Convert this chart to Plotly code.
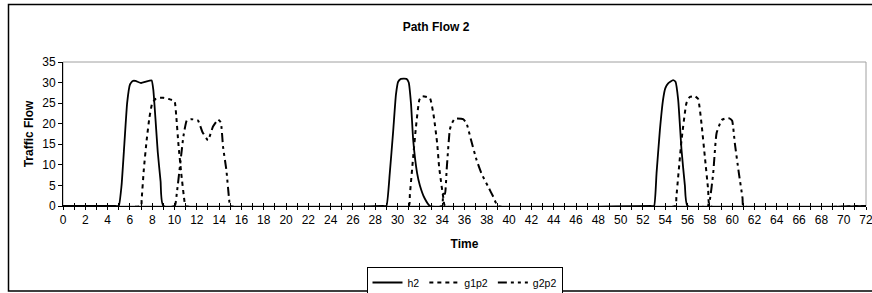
import plotly.graph_objects as go

# ---- data ----
h2_t = [0, 4.7, 5.0, 5.25, 5.5, 5.75, 6.0, 6.25, 6.5, 7.0, 7.5, 7.95, 8.1, 8.5, 8.75, 9.0,
        28.7, 29.0, 29.3, 29.6, 29.85, 30.05, 30.3, 30.8, 31.0, 31.2, 31.4, 31.75, 32.0, 32.4, 32.9,
        52.7, 53.0, 53.22, 53.52, 53.8, 54.0, 54.26, 54.7, 54.92, 55.16, 55.46, 55.76, 56.0, 72]
h2_v = [0, 0, 0, 5, 15, 25, 29.5, 30.4, 30.4, 29.9, 30.3, 30.5, 28.2, 13, 6, 0,
        0, 0, 8, 18, 27, 30.2, 30.9, 30.9, 30.0, 25, 16, 8, 5, 2, 0,
        0, 0, 8, 18.5, 25.8, 28.6, 29.8, 30.6, 30.2, 25.8, 13.6, 5, 0, 0]

g1p2_t = [0, 7.0, 7.05, 7.25, 7.5, 7.75, 8.0, 8.3, 8.6, 9.0, 9.5, 10.0, 10.15, 10.35, 10.6, 10.9, 11.0,
          31.0, 31.1, 31.4, 31.65, 31.95, 32.2, 32.9, 33.25, 33.55, 33.72, 33.94, 34.1, 34.25,
          54.9, 55.0, 55.46, 55.9, 56.2, 56.65, 56.95, 57.25, 57.55, 57.85, 58.0, 72]
g1p2_v = [0, 0, 1.5, 9, 16, 21.5, 25, 26, 26.3, 26.3, 26, 25.5, 22, 15, 8, 1, 0,
          0, 2.7, 12, 19.3, 25.8, 26.7, 26.2, 21.7, 15.2, 9.6, 5, 2, 0,
          0, 2.3, 16, 25, 26.5, 26.7, 26, 20, 12, 3.9, 0, 0]

g2p2_t = [0, 10.0, 10.2, 10.5, 10.8, 11.1, 11.5, 12.1, 12.5, 13.0, 13.45, 13.9, 14.15, 14.35, 14.65, 14.9, 15.0,
          33.95, 34.1, 34.25, 34.4, 34.68, 34.85, 35.13, 35.87, 36.18, 36.63, 37.08, 37.52, 38.12, 38.57, 39.0,
          57.8, 58.0, 58.3, 58.6, 59.05, 59.4, 59.75, 60.0, 60.24, 60.6, 60.93, 61.0, 72]
g2p2_v = [0, 0, 3, 10, 17, 20.8, 21.1, 20.8, 18, 16, 19.3, 21, 20.3, 14.4, 8.7, 1.5, 0,
          0, 3, 3, 8.8, 18.5, 20, 21.2, 21.1, 20.1, 15.6, 11.2, 7.9, 4.7, 2.3, 0,
          0, 1.5, 8, 17.7, 20.9, 21.3, 21.3, 20.7, 15.2, 8, 1.9, 0, 0]

x_ticks = list(range(0, 73, 2))
y_ticks = list(range(0, 36, 5))

FONT = "Liberation Sans, Arial, sans-serif"
SMOOTH = 0.4

fig = go.Figure()
fig.add_trace(go.Scatter(x=h2_t, y=h2_v, name="h2", mode="lines",
                         line=dict(color="black", width=1.8, shape="spline", smoothing=SMOOTH)))
fig.add_trace(go.Scatter(x=g1p2_t, y=g1p2_v, name="g1p2", mode="lines",
                         line=dict(color="black", width=2, dash="4px,4px", shape="spline", smoothing=SMOOTH)))
fig.add_trace(go.Scatter(x=g2p2_t, y=g2p2_v, name="g2p2", mode="lines",
                         line=dict(color="black", width=2, dash="9px,4px,3px,4px,3px,4px",
                                   shape="spline", smoothing=SMOOTH)))
# invisible trace to host the second (inside-tick) x axis
fig.add_trace(go.Scatter(x=[0, 72], y=[0, 0], xaxis="x2", mode="lines",
                         line=dict(width=0), showlegend=False, hoverinfo="skip"))

fig.update_layout(
    width=872, height=293,
    margin=dict(l=63, r=6, t=62, b=87, autoexpand=False),
    paper_bgcolor="white", plot_bgcolor="white",
    font=dict(family=FONT, size=12, color="black"),
    title=dict(text="<b>Path Flow 2</b>", x=0.5, xanchor="center", y=1 - 27 / 293,
               yanchor="middle", font=dict(size=12, family=FONT)),
    xaxis=dict(range=[0, 72], tickvals=x_ticks, ticktext=[str(v) for v in x_ticks],
               ticks="outside", ticklen=3, tickwidth=1, tickcolor="black",
               minor=dict(dtick=1, ticks="outside", ticklen=3, tickwidth=1, tickcolor="black"),
               showline=True, linecolor="black", linewidth=1, showgrid=False, zeroline=False,
               tickfont=dict(size=12), ticklabeloverflow="allow",
               title=dict(text="<b>Time</b>", font=dict(size=12), standoff=13)),
    xaxis2=dict(range=[0, 72], overlaying="x", anchor="y", side="bottom", dtick=1,
                ticks="inside", ticklen=3, tickwidth=1, tickcolor="black",
                showticklabels=False, showline=False, showgrid=False, zeroline=False),
    yaxis=dict(range=[0, 35], tickvals=y_ticks, ticks="outside", ticklen=4, tickwidth=1,
               tickcolor="black", showline=True, linecolor="black", linewidth=1,
               showgrid=False, zeroline=False, tickfont=dict(size=12),
               title=dict(text="<b>Traffic Flow</b>", font=dict(size=12), standoff=6)),
    legend=dict(orientation="h", x=0.5, xanchor="center", y=(206 - 267) / 144, yanchor="top",
                bordercolor="black", borderwidth=1, bgcolor="white",
                font=dict(size=10.5), itemwidth=30, tracegroupgap=0),
    showlegend=True,
    shapes=[
        dict(type="rect", xref="x domain", yref="y domain", x0=0, x1=1, y0=0, y1=1,
             line=dict(color="#a0a0a0", width=1), layer="below"),
        dict(type="rect", xref="paper", yref="paper",
             x0=(8.5 - 63) / 803, x1=(880 - 63) / 803,
             y0=(206 - 291) / 144, y1=(206 - 4.5) / 144,
             line=dict(color="black", width=1.5), layer="below"),
    ],
)

fig.write_html("out.html", config={"displayModeBar": False},
               post_script="document.body.style.margin='0';document.body.style.padding='0';")
